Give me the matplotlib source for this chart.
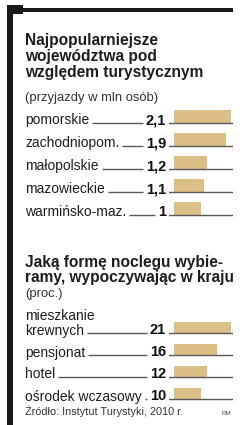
import matplotlib.pyplot as plt
from matplotlib.patches import Rectangle
from matplotlib.transforms import blended_transform_factory

# dane
woj_labels = ['pomorskie', 'zachodniopom.', 'małopolskie', 'mazowieckie', 'warmińsko-maz.']
woj_values = [2.1, 1.9, 1.2, 1.1, 1.0]
woj_text = ['2,1', '1,9', '1,2', '1,1', '1']

nocleg_labels = ['mieszkanie\nkrewnych', 'pensjonat', 'hotel', 'ośrodek wczasowy']
nocleg_values = [21, 16, 12, 10]
nocleg_text = ['21', '16', '12', '10']

title1 = ['Najpopularniejsze', 'województwa pod', 'względem turystycznym']
sub1 = '(przyjazdy w mln osób)'
title2 = ['Jaką formę noclegu wybie-', 'ramy, wypoczywając w kraju']
sub2 = '(proc.)'
zrodlo = 'Źródło: Instytut Turystyki, 2010 r.'

W, H = 246, 425
TAN = '#dcbf86'
GRAY = '#5a5a5a'
INK = '#1e1e1e'

plt.rcParams['font.family'] = ['Liberation Sans', 'DejaVu Sans']

fig = plt.figure(figsize=(W / 100, H / 100), dpi=100)
bg = fig.add_axes([0, 0, 1, 1])
bg.set_xlim(0, W)
bg.set_ylim(H, 0)
bg.axis('off')

# ramka
bg.add_patch(Rectangle((7, 5), 6, H - 5, color='#1a1a1a', lw=0))
bg.add_patch(Rectangle((7, 5), 16, 9, color='#1a1a1a', lw=0))
bg.add_patch(Rectangle((20, 7.5), 213, 4.5, color='#1a1a1a', lw=0))


def px_axes(x0, x1, y0, y1):
    return fig.add_axes([x0 / W, 1 - y1 / H, (x1 - x0) / W, (y1 - y0) / H])


def titles(lines, y0, step):
    for k, t in enumerate(lines):
        bg.text(25, y0 + k * step, t, fontsize=11.2, fontweight='bold',
                color=INK, va='baseline', ha='left')


def section(labels, values, vtext, y_top, row_h, bar_h):
    n = len(values)
    ax = px_axes(169, 233, y_top, y_top + row_h * n)
    scale = 57 / max(values)
    ax.set_xlim(-(174 - 169) / scale, (233 - 174) / scale)
    ax.set_ylim(n - 0.5, -0.5)
    ax.axis('off')
    hb = bar_h / row_h
    ax.barh(range(n), values, height=hb, color=TAN, lw=0)
    tr = blended_transform_factory(bg.transData, ax.transData)
    items = []
    for i in range(n):
        yl = i + hb / 2
        ax.axhline(yl, 0, 1, color=GRAY, lw=1)
        yb = yl + 1.5 / row_h
        lab = ax.text(25, yb, labels[i], transform=tr, fontsize=10, color=INK,
                      va='bottom', ha='left', linespacing=1.0, clip_on=False)
        val = ax.text(166, yb, vtext[i], transform=tr, fontsize=10.5,
                      fontweight='bold', color='#111111', va='baseline',
                      ha='right', clip_on=False)
        items.append((ax, tr, yl, yb, lab, val))
    return items


titles(title1, 45, 16)
bg.text(25, 101, sub1, fontsize=9.4, color='#333333', va='baseline')
rows1 = section(woj_labels, woj_values, woj_text, 105, 23, 12.5)

titles(title2, 267, 15)
bg.text(25, 297, sub2, fontsize=9.4, color='#333333', va='baseline')
rows2 = section(nocleg_labels, nocleg_values, nocleg_text, 316.5, 22, 11)

bg.text(25, 415, zrodlo, fontsize=7.8, color='#333333', va='baseline')
bg.text(231, 415, 'RM', fontsize=4.5, color='#555555', va='baseline', ha='right')

# ostatnia linia etykiety na linii bazowej wiersza + kreski prowadzace
fig.canvas.draw()
rend = fig.canvas.get_renderer()
inv = bg.transData.inverted()
for ax, tr, yl, yb, lab, val in rows1 + rows2:
    last = lab.get_text().split('\n')[-1]
    probe = ax.text(25, yb, last, transform=tr, fontsize=10, va='baseline')
    bb_probe = probe.get_window_extent(rend)
    bb_lab = lab.get_window_extent(rend)
    y_disp = tr.transform((25, yb))[1] + (bb_probe.y0 - bb_lab.y0)
    lab.set_position((25, tr.inverted().transform((0, y_disp))[1]))
    xa = inv.transform((bb_probe.x1, 0))[0] + 3
    probe.remove()
    xb = inv.transform((val.get_window_extent(rend).x0, 0))[0] - 3
    ax.plot([xa, xb], [yl, yl], transform=tr, color=GRAY, lw=1,
            clip_on=False, solid_capstyle='butt')

fig.savefig('out.png', dpi=100)
